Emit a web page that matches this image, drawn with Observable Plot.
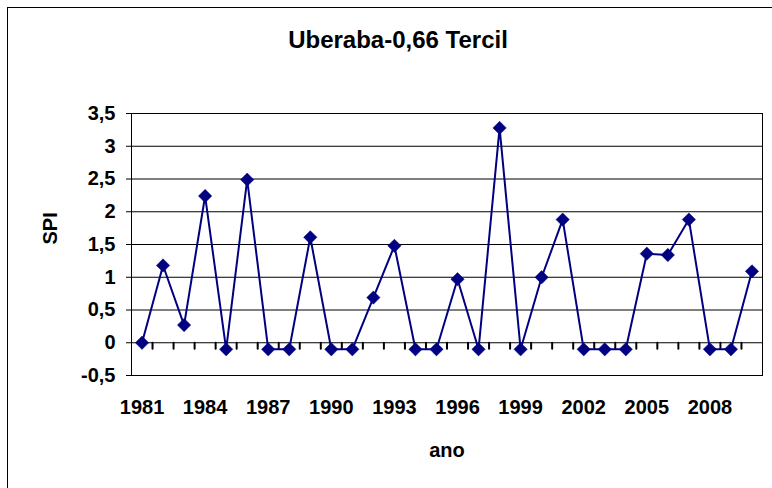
<!DOCTYPE html>
<html>
<head>
<meta charset="utf-8">
<script src="https://cdn.jsdelivr.net/npm/d3@7"></script>
<script src="https://cdn.jsdelivr.net/npm/@observablehq/plot@0.6"></script>
<style>
  html, body { margin: 0; padding: 0; background: #fff; }
  #wrap { position: relative; width: 772px; height: 488px; overflow: hidden; }
  #outer { position: absolute; left: 7px; top: 7px; width: 820px; height: 520px;
           border-left: 1.5px solid #000; border-top: 1.5px solid #000; }
  #chart { position: absolute; left: 0; top: 0; }
</style>
</head>
<body>
<div id="wrap"><div id="outer"></div><div id="chart"></div></div>
<script>
const titleText = "Uberaba-0,66 Tercil";
const xTitle = "ano";
const yTitle = "SPI";
const years = [1981, 1982, 1983, 1984, 1985, 1986, 1987, 1988, 1989, 1990,
               1991, 1992, 1993, 1994, 1995, 1996, 1997, 1998, 1999, 2000,
               2001, 2002, 2003, 2004, 2005, 2006, 2007, 2008, 2009, 2010];
const spi = [0, 1.18, 0.27, 2.24, -0.1, 2.49, -0.1, -0.1, 1.61, -0.1,
             -0.1, 0.69, 1.48, -0.1, -0.1, 0.97, -0.1, 3.28, -0.1, 1.0,
             1.88, -0.1, -0.1, -0.1, 1.36, 1.34, 1.88, -0.1, -0.1, 1.09];
const xTickLabels = [1981, 1984, 1987, 1990, 1993, 1996, 1999, 2002, 2005, 2008];
const yTicks = [-0.5, 0, 0.5, 1, 1.5, 2, 2.5, 3, 3.5];

const data = years.map((y, i) => ({year: y, spi: spi[i]}));
// category boundaries for the minor tick marks on the zero line
const boundaries = years.slice(1).map(y => y - 0.5);
const navy = "#000080";

const chart = Plot.plot({
  width: 772,
  height: 488,
  marginLeft: 131,
  marginRight: 10,
  marginTop: 113,
  marginBottom: 113,
  style: {fontFamily: "'Liberation Sans', Arial, sans-serif", fontSize: "20px", fontWeight: "bold", color: "#000", background: "transparent", overflow: "visible"},
  x: {domain: [years[0] - 0.5, years[years.length - 1] + 0.5]},
  y: {domain: [yTicks[0], yTicks[yTicks.length - 1]]},
  marks: [
    Plot.ruleY(yTicks, {stroke: "#000", strokeWidth: 1}),
    Plot.frame({stroke: "#000", strokeWidth: 1}),
    Plot.vector(boundaries, {x: d => d, y: 0, length: 6, rotate: 180, anchor: "start", r: 0.05, stroke: "#000", strokeWidth: 2}),
    Plot.axisY({ticks: yTicks, tickFormat: d => String(d).replace(".", ","), tickSize: 5, tickPadding: 11, label: null, fontSize: 20, fontWeight: "bold"}),
    Plot.axisX({ticks: xTickLabels, tickFormat: d => String(d), tickSize: 0, tickPadding: 24, label: null, fontSize: 20, fontWeight: "bold"}),
    Plot.line(data, {x: "year", y: "spi", stroke: navy, strokeWidth: 2}),
    Plot.dot(data, {x: "year", y: "spi", symbol: "diamond2", fill: navy, stroke: navy, strokeWidth: 0.5, r: 6}),
    Plot.text([yTitle], {text: d => d, frameAnchor: "left", dx: -81, rotate: -90, fontSize: 20, fontWeight: "bold"}),
    Plot.text([xTitle], {text: d => d, frameAnchor: "bottom", dy: 75, lineAnchor: "middle", fontSize: 20, fontWeight: "bold"}),
    Plot.text([titleText], {text: d => d, frameAnchor: "top", dx: -49, dy: -73, lineAnchor: "middle", fontSize: 24, fontWeight: "bold"})
  ]
});
document.getElementById("chart").appendChild(chart);
</script>
</body>
</html>
